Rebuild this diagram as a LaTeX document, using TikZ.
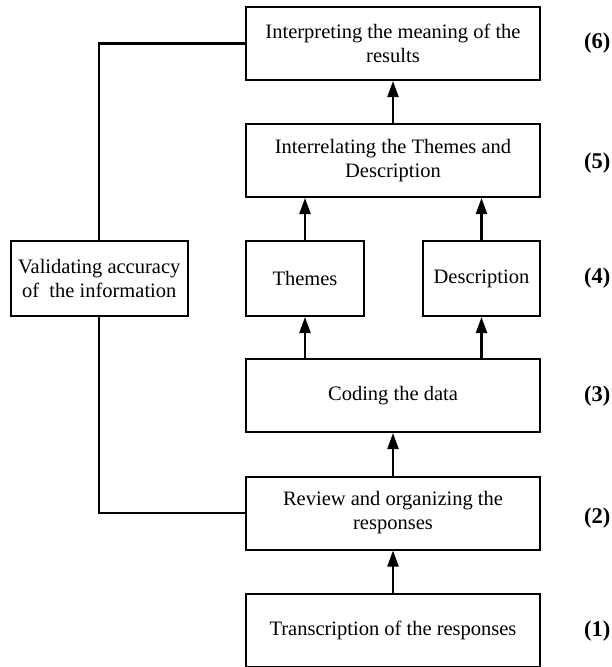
\documentclass[tikz,border=0pt]{standalone}
\usepackage{fontspec}
\setmainfont{Liberation Serif}
\usetikzlibrary{arrows.meta}
\begin{document}
\begin{tikzpicture}[x=1pt,y=-1pt,
  box/.style={draw, line width=2pt, align=center, inner sep=0pt,
              font=\fontsize{20.5}{24}\selectfont},
  wide/.style={box, minimum width=294pt, minimum height=73pt},
  narrow/.style={box, minimum height=75pt},
  flow/.style={line width=2.2pt, -{Triangle[length=16pt,width=11pt]}},
  link/.style={line width=2.2pt},
  stage/.style={font=\bfseries\fontsize{22.5}{26}\selectfont, anchor=west, inner sep=0pt}]
\useasboundingbox (0,0) rectangle (612,667);

% main column of steps
\node[wide] (interp) at (393,43.5)  {Interpreting the meaning of the\\results};
\node[wide] (relate) at (393,160.5) {Interrelating the Themes and\\Description};
\node[narrow, minimum width=118pt] (themes) at (305,278.5) {Themes};
\node[narrow, minimum width=117pt] (descr)  at (481.5,278.5) {Description};
\node[wide] (code)   at (393,395.5) {Coding the data};
\node[wide] (review) at (393,513)   {Review and organizing the\\responses};
\node[wide] (trans)  at (393,630)   {Transcription of the responses};

% validation box on the left
\node[narrow, minimum width=177.5pt] (valid) at (99.25,278.5)
  {Validating accuracy\\of\enspace the information};

% stage numbers
\node[stage] (s6) at (584,43)    {(6)};
\node[stage] (s5) at (584,163)   {(5)};
\node[stage] (s4) at (584,278.5) {(4)};
\node[stage] (s3) at (584,396)   {(3)};
\node[stage] (s2) at (584,518)   {(2)};
\node[stage] (s1) at (584,631)   {(1)};

% upward flow
\draw[flow] (trans.north) -- (review.south);
\draw[flow] (review.north) -- (code.south);
\draw[flow] (code.north -| themes.south) -- (themes.south);
\draw[flow] (code.north -| descr.south) -- (descr.south);
\draw[flow] (themes.north) -- (relate.south -| themes.north);
\draw[flow] (descr.north) -- (relate.south -| descr.north);
\draw[flow] (relate.north) -- (interp.south);

% validation links
\draw[link] (interp.west) -| (valid.north);
\draw[link] (valid.south) |- (review.west);
\end{tikzpicture}
\end{document}
